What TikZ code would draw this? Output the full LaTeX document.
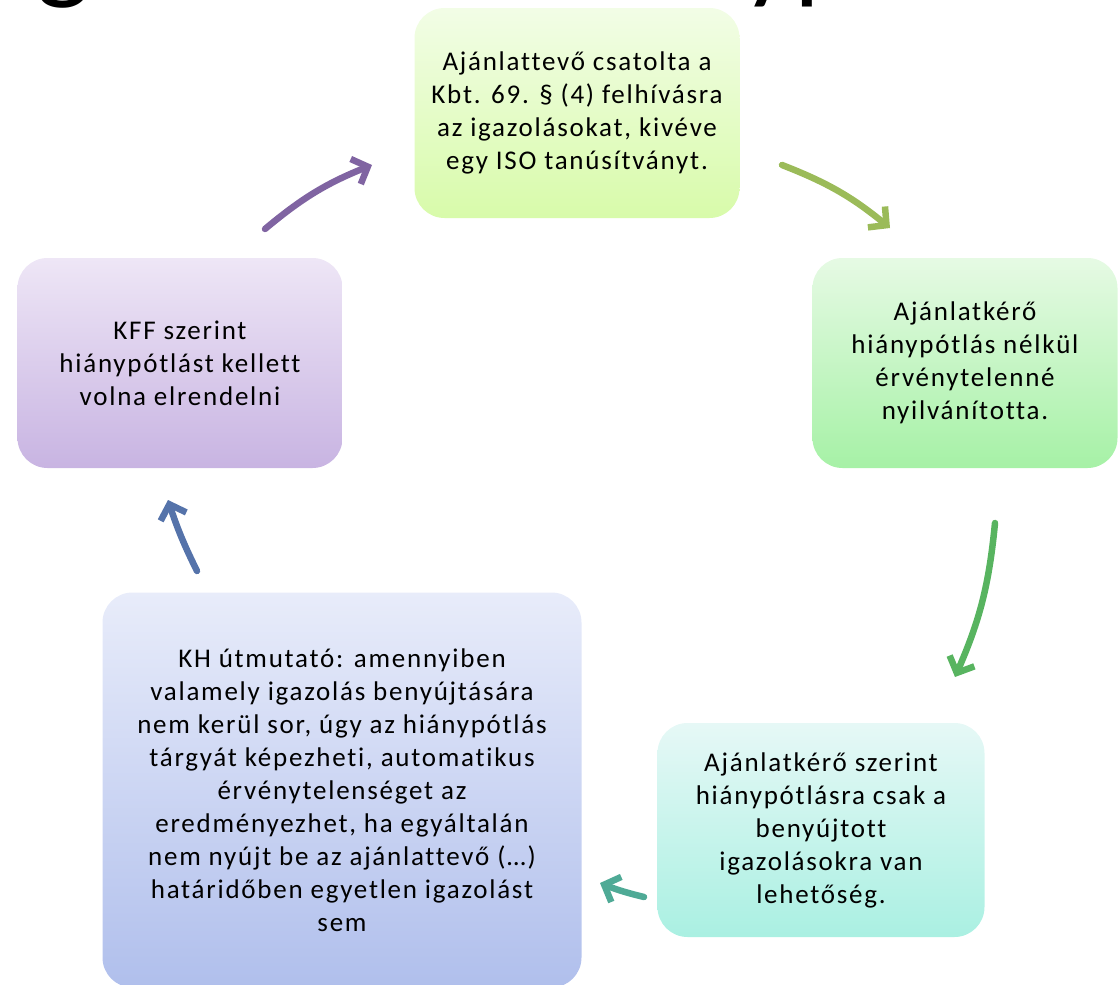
\documentclass[tikz,border=0pt]{standalone}
\usepackage{fontspec}
\usepackage{tikz}
\usetikzlibrary{arrows.meta}
\newfontfamily\boxfont{Carlito}[LetterSpace=6.5,Ligatures=NoCommon]
\newfontfamily\titlefont{Carlito}
\definecolor{subtop}{HTML}{F2FDE6}
\definecolor{subbot}{HTML}{D8FBAA}
\definecolor{rejtop}{HTML}{E6FAE4}
\definecolor{rejbot}{HTML}{A6F1A6}
\definecolor{viewtop}{HTML}{E6F8F6}
\definecolor{viewbot}{HTML}{AAF0E2}
\definecolor{guidetop}{HTML}{E8ECFA}
\definecolor{guidebot}{HTML}{B0BFEC}
\definecolor{kfftop}{HTML}{EEE6F6}
\definecolor{kffbot}{HTML}{C8B4E2}
\definecolor{arrpurple}{HTML}{8064A2}
\definecolor{arrlime}{HTML}{9BBB59}
\definecolor{arrgreen}{HTML}{58B460}
\definecolor{arrteal}{HTML}{4FAA96}
\definecolor{arrblue}{HTML}{5573AA}

\begin{document}
\begin{tikzpicture}[
x=1pt,y=-1pt,
box/.style={rectangle,rounded corners=30pt,inner sep=0pt,align=center,
  font=\boxfont\fontsize{27}{33}\selectfont},
title/.style={anchor=base west,inner sep=0pt,font=\titlefont\fontsize{115}{115}\selectfont},
flow/.style={-{Straight Barb[length=13pt,width=27pt]},line width=6.5pt,line cap=round,bend left=9}]

\useasboundingbox (0,0) rectangle (1120,985);
\clip (0,0) rectangle (1120,985);

\node[title] (ttlg) at (36,-12) {g};
\node[title] (ttlyp) at (742,-12) {yp};

\node[box,top color=subtop,bottom color=subbot,minimum width=325pt,minimum height=210pt] (submit) at (577,113)
  {Ajánlattevő csatolta a\\Kbt. 69. § (4) felhívásra\\az igazolásokat, kivéve\\egy ISO tanúsítványt.};
\node[box,top color=rejtop,bottom color=rejbot,minimum width=305pt,minimum height=210pt] (reject) at (965,363)
  {Ajánlatkérő\\hiánypótlás nélkül\\érvénytelenné\\nyilvánította.};
\node[box,top color=viewtop,bottom color=viewbot,minimum width=327pt,minimum height=214pt] (view) at (821,830)
  {Ajánlatkérő szerint\\hiánypótlásra csak a\\benyújtott\\igazolásokra van\\lehetőség.};
\node[box,top color=guidetop,bottom color=guidebot,minimum width=479pt,minimum height=395pt] (guide) at (342,790)
  {KH útmutató: amennyiben\\valamely igazolás benyújtására\\nem kerül sor, úgy az hiánypótlás\\tárgyát képezheti, automatikus\\érvénytelenséget az\\eredményezhet, ha egyáltalán\\nem nyújt be az ajánlattevő (…)\\határidőben egyetlen igazolást\\sem};
\node[box,top color=kfftop,bottom color=kffbot,minimum width=325pt,minimum height=210pt] (kff) at (180,363)
  {KFF szerint\\hiánypótlást kellett\\volna elrendelni};

\coordinate (kffout) at (265,229);
\coordinate (subin) at (372,165);
\coordinate (subout) at (782,165);
\coordinate (rejin) at (890,228);
\coordinate (rejout) at (995,523);
\coordinate (viewin) at (955,677);
\coordinate (viewout) at (644,897);
\coordinate (guidein) at (600,883);
\coordinate (guideout) at (197,571);
\coordinate (kffin) at (168,500);

\draw[flow,arrpurple] (kffout) to (subin);
\draw[flow,arrlime] (subout) to (rejin);
\draw[flow,arrgreen] (rejout) to (viewin);
\draw[flow,arrteal,bend left=4] (viewout) to (guidein);
\draw[flow,arrblue,bend left=4] (guideout) to (kffin);
\end{tikzpicture}
\end{document}
